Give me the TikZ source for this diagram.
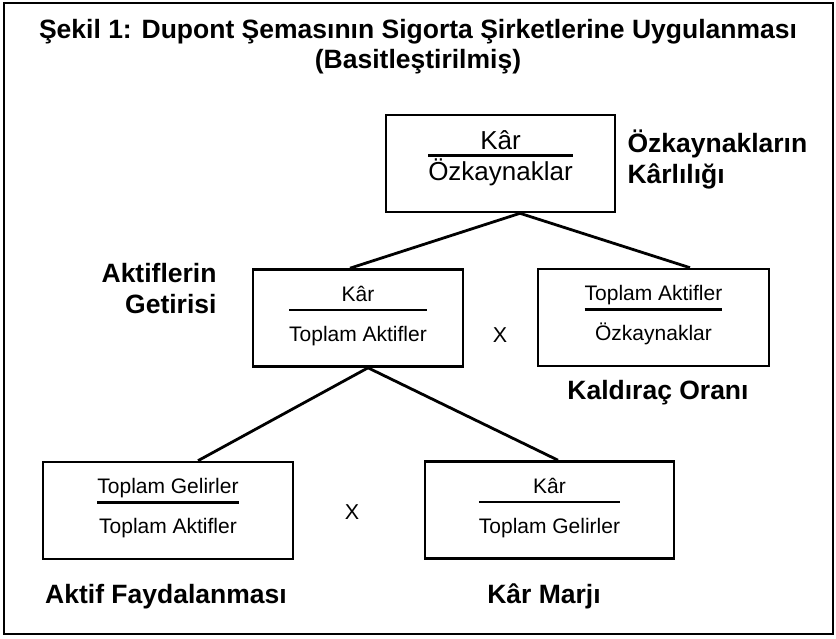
\documentclass[tikz,border=0pt]{standalone}
\usepackage{fontspec}
\setmainfont{Liberation Sans}
\usepackage{tikz}
\usetikzlibrary{positioning}

\setlength{\arrayrulewidth}{2.5pt}
\newcommand{\oran}[2]{\begin{tabular}{@{}c@{}}#1\\\hline\rule[-11.5pt]{0pt}{41.5pt}#2\end{tabular}}

\begin{document}
\begin{tikzpicture}[
    x=1pt, y=-1pt,
    box/.style={rectangle, draw, line width=2.6pt, minimum height=97pt, inner sep=0pt, font=\fontsize{21}{25}\selectfont},
    baslik/.style={font=\bfseries\fontsize{26.5}{31}\selectfont},
    carpi/.style={font=\fontsize{21.5}{25}\selectfont},
    line/.style={line width=2.8pt}
]
    \useasboundingbox (0,0) rectangle (836,638);
    \draw[line width=2pt] (4,3) rectangle (833,634);

    % Title
    \node[baslik, anchor=base] (baslik1) at (418,38) {Şekil 1: Dupont Şemasının Sigorta Şirketlerine Uygulanması};
    \node[baslik, anchor=base] (baslik2) at (418,68) {(Basitleştirilmiş)};

    % Return on equity
    \node[box, minimum width=229pt, font=\fontsize{26}{30}\selectfont] (ozk) at (500.5,163.5)
        {\begin{tabular}{@{}c@{}}Kâr\\[-4.3pt]\hline\rule[-18.4pt]{0pt}{42.2pt}Özkaynaklar\end{tabular}};
    \node[baslik, anchor=base west, align=left] (ozklbl) at (624,183) {Özkaynakların\\Kârlılığı};

    % Second level
    \node[box, minimum width=210pt] (akt) at (358,318) {\oran{Kâr}{Toplam Aktifler}};
    \node[box, minimum width=231pt] (kal) at (653.5,317.5) {\oran{Toplam Aktifler}{Özkaynaklar}};
    \node[baslik, anchor=base east, align=right] (aktlbl) at (220,313) {Aktiflerin\\Getirisi};
    \node[carpi] (x1) at (500,335) {X};
    \node[baslik, anchor=base] (kallbl) at (658,399.3) {Kaldıraç Oranı};

    % Third level
    \node[box, minimum width=250pt] (fay) at (168,510.5) {\oran{Toplam Gelirler}{Toplam Aktifler}};
    \node[box, minimum width=249pt] (marj) at (549.5,510) {\oran{Kâr}{Toplam Gelirler}};
    \node[carpi] (x2) at (352,512) {X};
    \node[baslik, anchor=base] (faylbl) at (166,603) {Aktif Faydalanması};
    \node[baslik, anchor=base] (marjlbl) at (544,603) {Kâr Marjı};

    % Lines
    \draw[line] ([xshift=19.5pt]ozk.south) -- ([xshift=-8pt]akt.north);
    \draw[line] ([xshift=19.5pt]ozk.south) -- ([xshift=36.5pt]kal.north);
    \draw[line] ([xshift=10pt]akt.south) -- ([xshift=30pt]fay.north);
    \draw[line] ([xshift=10pt]akt.south) -- ([xshift=8.5pt]marj.north);
\end{tikzpicture}
\end{document}
